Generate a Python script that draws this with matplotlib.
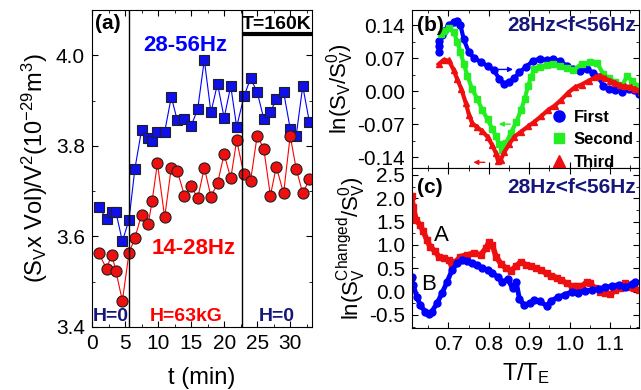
import matplotlib.pyplot as plt
from matplotlib.ticker import MultipleLocator, FormatStrFormatter

plt.rcParams['font.family'] = ['Liberation Sans', 'DejaVu Sans']
plt.rcParams['mathtext.fontset'] = 'custom'
plt.rcParams['mathtext.rm'] = 'Liberation Sans'
plt.rcParams['mathtext.it'] = 'Liberation Sans'
plt.rcParams['mathtext.bf'] = 'Liberation Sans:bold'
plt.rcParams['mathtext.default'] = 'regular'
plt.rcParams['axes.unicode_minus'] = False

# --- panel (a): noise vs time ---
t_min = [1.0, 2.2, 3.0, 3.6, 4.6, 5.6, 6.5, 7.5, 8.5, 9.1, 9.9, 11.0, 12.0, 12.9,
         14.0, 15.0, 16.0, 17.0, 18.0, 19.0, 20.0, 21.0, 21.9, 23.0, 24.0, 25.0,
         26.0, 27.0, 27.9, 29.0, 30.0, 30.9, 31.9, 32.9]
hz_28_56 = [3.666, 3.638, 3.653, 3.655, 3.589, 3.637, 3.750, 3.835, 3.818, 3.811,
            3.831, 3.831, 3.908, 3.857, 3.860, 3.844, 3.881, 3.990, 3.874, 3.937,
            3.862, 3.932, 3.842, 3.909, 3.949, 3.919, 3.860, 3.874, 3.904, 3.919,
            3.838, 3.822, 3.932, 3.853]
hz_14_28 = [3.563, 3.529, 3.560, 3.524, 3.458, 3.563, 3.597, 3.648, 3.627, 3.678,
            3.762, 3.642, 3.752, 3.745, 3.690, 3.712, 3.684, 3.752, 3.688, 3.717,
            3.782, 3.728, 3.812, 3.737, 3.723, 3.822, 3.794, 3.690, 3.754, 3.695,
            3.822, 3.750, 3.695, 3.726]
field_switch = [5.6, 22.7]

# --- panel (b): ln(Sv/Sv0) vs T/TE ---
first_T = [0.676, 0.676, 0.678, 0.684, 0.690, 0.701, 0.713, 0.722, 0.730, 0.738,
           0.751, 0.763, 0.780, 0.797, 0.813, 0.826, 0.838, 0.851, 0.863, 0.876,
           0.893, 0.909, 0.926, 0.943, 0.959, 0.976, 0.993, 1.009, 1.026, 1.043,
           1.059, 1.072, 1.084, 1.097, 1.113, 1.130, 1.147, 1.159, 1.172]
first_ln = [0.084, 0.095, 0.106, 0.118, 0.128, 0.140, 0.146, 0.148, 0.140, 0.110,
            0.082, 0.071, 0.062, 0.053, 0.044, 0.026, 0.016, 0.020, 0.027, 0.040,
            0.052, 0.064, 0.069, 0.066, 0.068, 0.064, 0.054, 0.046, 0.043, 0.046,
            0.039, 0.029, 0.011, 0.004, 0.002, -0.001, 0.004, 0.003, -0.006]
second_T = [0.681, 0.688, 0.701, 0.713, 0.722, 0.730, 0.738, 0.747, 0.759, 0.772,
            0.784, 0.797, 0.809, 0.818, 0.826, 0.834, 0.843, 0.855, 0.868, 0.880,
            0.889, 0.897, 0.905, 0.913, 0.926, 0.943, 0.959, 0.976, 0.993, 1.009,
            1.030, 1.051, 1.068, 1.084, 1.097, 1.113, 1.130, 1.143, 1.155, 1.168]
second_ln = [0.122, 0.128, 0.133, 0.126, 0.105, 0.083, 0.058, 0.033, 0.004, -0.017,
             -0.040, -0.060, -0.080, -0.096, -0.112, -0.124, -0.110, -0.088, -0.066,
             -0.040, -0.017, 0.010, 0.030, 0.047, 0.052, 0.055, 0.058, 0.054, 0.049,
             0.044, 0.058, 0.061, 0.060, 0.036, 0.027, 0.020, 0.012, 0.032, 0.022,
             0.011]
third_T = [0.676, 0.688, 0.701, 0.713, 0.722, 0.732, 0.743, 0.751, 0.759, 0.772,
           0.784, 0.797, 0.809, 0.818, 0.823, 0.830, 0.838, 0.851, 0.863, 0.880,
           0.897, 0.913, 0.930, 0.947, 0.963, 0.980, 0.997, 1.013, 1.030, 1.047,
           1.063, 1.076, 1.088, 1.101, 1.113, 1.126, 1.138, 1.151, 1.163, 1.176]
third_ln = [0.057, 0.066, 0.065, 0.045, 0.025, 0.005, -0.025, -0.050, -0.068,
            -0.077, -0.085, -0.097, -0.115, -0.132, -0.148, -0.145, -0.130, -0.112,
            -0.097, -0.086, -0.075, -0.065, -0.053, -0.040, -0.031, -0.018, -0.003,
            0.008, 0.014, 0.022, 0.029, 0.033, 0.027, 0.022, 0.018, 0.012, 0.010,
            0.009, 0.005, -0.002]

# --- panel (c): ln(Sv_changed/Sv0) vs T/TE ---
a_T = [0.609, 0.613, 0.620, 0.630, 0.638, 0.647, 0.655, 0.668, 0.676, 0.688,
       0.701, 0.709, 0.718, 0.730, 0.747, 0.763, 0.780, 0.793, 0.801, 0.809,
       0.818, 0.830, 0.843, 0.855, 0.868, 0.880, 0.893, 0.905, 0.918, 0.930,
       0.943, 0.955, 0.968, 0.980, 0.993, 1.005, 1.018, 1.030, 1.043, 1.051,
       1.063, 1.076, 1.088, 1.101, 1.113, 1.126, 1.138, 1.147, 1.159, 1.172]
a_ln = [2.04, 1.82, 1.54, 1.43, 1.29, 1.11, 0.96, 0.86, 0.75, 0.71,
        0.68, 0.54, 0.64, 0.75, 0.79, 0.82, 0.79, 0.93, 1.07, 1.00,
        0.75, 0.60, 0.50, 0.45, 0.55, 0.64, 0.57, 0.54, 0.50, 0.46,
        0.39, 0.34, 0.30, 0.24, 0.18, 0.12, 0.13, 0.11, 0.21, 0.18,
        0.07, 0.00, -0.04, -0.06, 0.03, 0.07, 0.19, 0.09, 0.07, 0.03]
b_T = [0.609, 0.613, 0.622, 0.630, 0.643, 0.651, 0.659, 0.672, 0.684, 0.697,
       0.709, 0.722, 0.734, 0.747, 0.759, 0.772, 0.784, 0.797, 0.809, 0.822,
       0.834, 0.847, 0.859, 0.868, 0.876, 0.888, 0.901, 0.913, 0.926, 0.943,
       0.955, 0.972, 0.988, 1.005, 1.022, 1.038, 1.055, 1.072, 1.088, 1.105,
       1.122, 1.138, 1.155, 1.163]
b_ln = [0.32, 0.14, -0.11, -0.29, -0.43, -0.48, -0.43, -0.25, -0.04, 0.21,
        0.46, 0.61, 0.68, 0.66, 0.61, 0.57, 0.50, 0.46, 0.39, 0.32,
        0.20, 0.27, 0.07, 0.21, -0.16, -0.29, -0.25, -0.18, -0.21, -0.30,
        -0.20, -0.11, -0.07, 0.00, -0.02, 0.02, 0.03, 0.06, 0.09, 0.12,
        0.15, 0.10, 0.16, 0.20]

navy = '#15157a'
fs_tick = 15
fs_lab = 17

fig = plt.figure(figsize=(6.41, 3.90), dpi=100)
ax_a = fig.add_axes([92 / 641, 63 / 390, 220 / 641, 317 / 390])
ax_b = fig.add_axes([412 / 641, 222 / 390, 227 / 641, 158 / 390])
ax_c = fig.add_axes([412 / 641, 62 / 390, 227 / 641, 160 / 390], sharex=ax_b)

for ax in (ax_a, ax_b, ax_c):
    ax.tick_params(which='both', direction='in', top=True, right=True, labelsize=fs_tick)
    ax.tick_params(which='major', length=4, pad=5)
    ax.tick_params(which='minor', length=2)

# (a)
ax_a.plot(t_min, hz_28_56, '-', color='blue', lw=0.8)
ax_a.plot(t_min, hz_14_28, '-', color='red', lw=0.8)
ax_a.plot(t_min, hz_28_56, 's', ms=7.5, mfc='#1010e8', mec='#202020', mew=0.8, ls='none')
ax_a.plot(t_min, hz_14_28, 'o', ms=8, mfc='#ee1010', mec='#202020', mew=0.8, ls='none')
for x in field_switch:
    ax_a.axvline(x, color='black', lw=1)
ax_a.plot([field_switch[1], 33.3], [4.046, 4.046], color='black', lw=3, solid_capstyle='butt')
ax_a.set_xlim(0, 33.3)
ax_a.set_ylim(3.4, 4.1)
ax_a.xaxis.set_major_locator(MultipleLocator(5))
ax_a.xaxis.set_minor_locator(MultipleLocator(2.5))
ax_a.yaxis.set_major_locator(MultipleLocator(0.2))
ax_a.yaxis.set_minor_locator(MultipleLocator(0.1))
ax_a.yaxis.set_major_formatter(FormatStrFormatter('%.1f'))
ax_a.set_xlabel('t (min)', fontsize=fs_lab, labelpad=10)
ax_a.set_ylabel('(S$_V$x Vol)/V$^2$(10$^{-29}$m$^3$)', fontsize=fs_lab, labelpad=4)
ax_a.text(0.4, 4.07, '(a)', fontsize=15, fontweight='bold', va='center')
ax_a.text(14.1, 4.022, '28-56Hz', color='blue', fontsize=16, fontweight='bold', ha='center', va='center')
ax_a.text(15.4, 3.574, '14-28Hz', color='red', fontsize=16, fontweight='bold', ha='center', va='center')
ax_a.text(2.9, 3.423, 'H=0', color=navy, fontsize=14, fontweight='bold', ha='center', va='center')
ax_a.text(14.3, 3.423, 'H=63kG', color='red', fontsize=14, fontweight='bold', ha='center', va='center')
ax_a.text(28.0, 3.423, 'H=0', color=navy, fontsize=14, fontweight='bold', ha='center', va='center')
ax_a.text(28.0, 4.068, 'T=160K', fontsize=14, fontweight='bold', ha='center', va='center')

# (b)
ax_b.plot(first_T, first_ln, '-', color='blue', lw=3)
ax_b.plot(first_T, first_ln, 'o', color='blue', ms=5, ls='none', label='First')
ax_b.plot(second_T, second_ln, '-', color='#22ee22', lw=3)
ax_b.plot(second_T, second_ln, 's', color='#22ee22', ms=4.5, ls='none', label='Second')
ax_b.plot(third_T, third_ln, '-', color='#ee1010', lw=3)
ax_b.plot(third_T, third_ln, '^', color='#ee1010', ms=5, ls='none', label='Third')
arrow_kw = dict(arrowstyle='-|>', lw=1, mutation_scale=7)
ax_b.annotate('', xy=(0.867, 0.046), xytext=(0.813, 0.046), arrowprops=dict(color='blue', **arrow_kw))
ax_b.annotate('', xy=(0.818, -0.070), xytext=(0.860, -0.070), arrowprops=dict(color='#22ee22', **arrow_kw))
ax_b.annotate('', xy=(0.755, -0.151), xytext=(0.797, -0.151), arrowprops=dict(color='#ee1010', **arrow_kw))
ax_b.set_xlim(0.61, 1.172)
ax_b.set_ylim(-0.163, 0.172)
ax_b.xaxis.set_major_locator(MultipleLocator(0.1))
ax_b.xaxis.set_minor_locator(MultipleLocator(0.05))
ax_b.yaxis.set_major_locator(MultipleLocator(0.07))
ax_b.yaxis.set_minor_locator(MultipleLocator(0.035))
ax_b.yaxis.set_major_formatter(FormatStrFormatter('%.2f'))
ax_b.tick_params(labelbottom=False)
ax_b.set_ylabel('ln(S$_V$/S$_V^0$)', fontsize=16, labelpad=1)
ax_b.text(0.02, 0.9, '(b)', transform=ax_b.transAxes, fontsize=15, fontweight='bold', va='center')
ax_b.text(0.985, 0.9, '28Hz<f<56Hz', transform=ax_b.transAxes, color=navy, fontsize=15,
          fontweight='bold', ha='right', va='center')
ax_b.legend(loc='upper left', bbox_to_anchor=(0.61, 0.37), frameon=False,
            borderaxespad=0, borderpad=0,
            handletextpad=0.4, labelspacing=0.45, markerscale=1.6, handlelength=1.0,
            prop={'weight': 'bold', 'size': 12})

# (c)
ax_c.plot(a_T, a_ln, '-', color='#ee1010', lw=4)
ax_c.plot(a_T, a_ln, 's', color='#ee1010', ms=5, ls='none')
ax_c.plot(b_T, b_ln, '-', color='blue', lw=3.5)
ax_c.plot(b_T, b_ln, 'o', color='blue', ms=5, ls='none')
ax_c.set_ylim(-0.78, 2.65)
ax_c.yaxis.set_major_locator(MultipleLocator(0.5))
ax_c.yaxis.set_minor_locator(MultipleLocator(0.25))
ax_c.yaxis.set_major_formatter(FormatStrFormatter('%.1f'))
ax_c.xaxis.set_major_formatter(FormatStrFormatter('%.1f'))
ax_c.set_xlabel('T/T$_E$', fontsize=fs_lab, labelpad=5)
ax_c.set_ylabel('ln(S$_V^{Changed}$/S$_V^0$)', fontsize=16, labelpad=1)
ax_c.text(0.683, 1.21, 'A', fontsize=16, ha='center', va='center')
ax_c.text(0.650, 0.15, 'B', fontsize=16, ha='center', va='center')
ax_c.text(0.02, 0.88, '(c)', transform=ax_c.transAxes, fontsize=15, fontweight='bold', va='center')
ax_c.text(0.985, 0.88, '28Hz<f<56Hz', transform=ax_c.transAxes, color=navy, fontsize=15,
          fontweight='bold', ha='right', va='center')

fig.savefig('out.png', dpi=100)
